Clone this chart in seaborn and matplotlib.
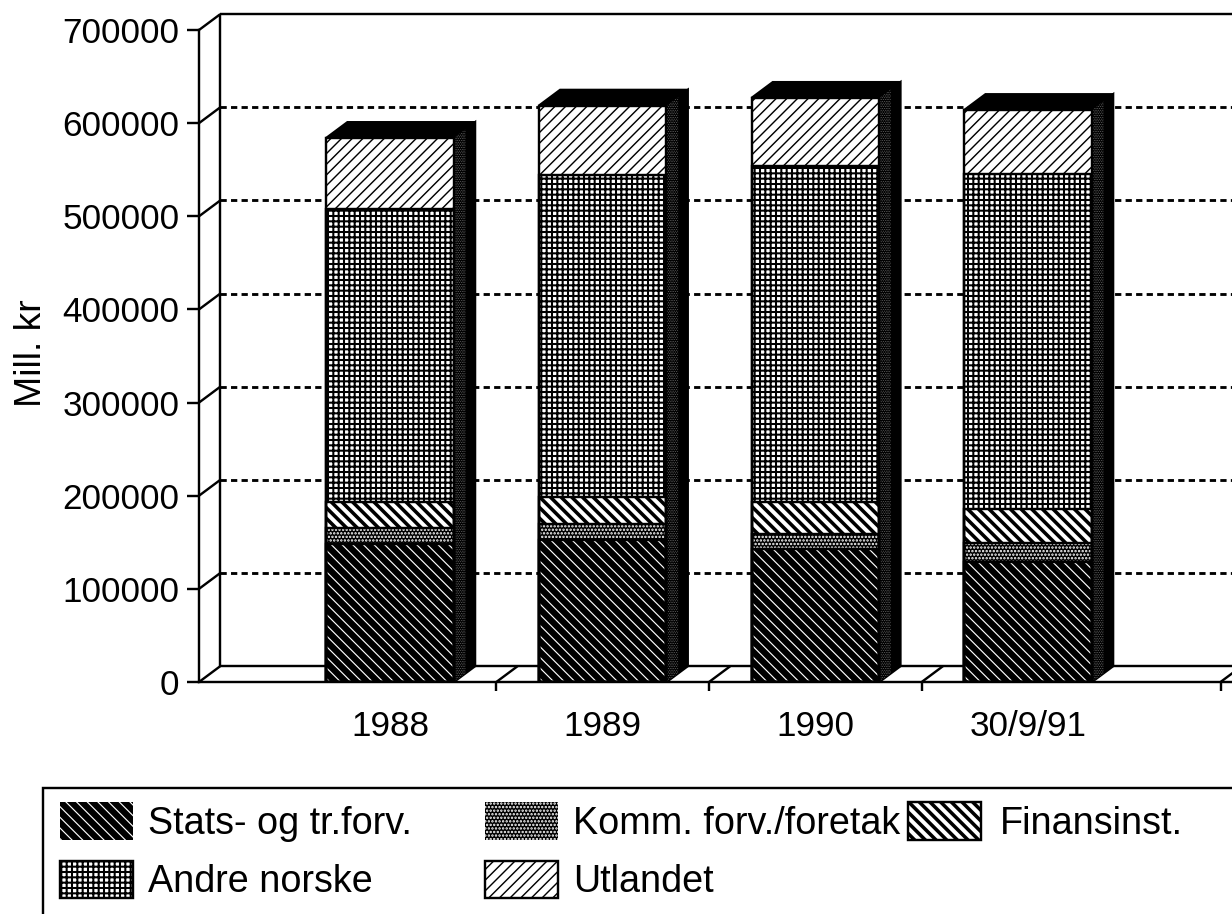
import numpy as np
import pandas as pd
import matplotlib
matplotlib.use('Agg')
import matplotlib.pyplot as plt
import seaborn as sns
from matplotlib.patches import Patch, Polygon, Rectangle

# Values (mill. kr)
periods = ['1988', '1989', '1990', '30/9/91']
stats = [148000, 152500, 143000, 129000]
komm = [17000, 17500, 16000, 20000]
finans = [28000, 28700, 34000, 37000]
andre = [315000, 345800, 361000, 359000]
utland = [76000, 74200, 73000, 69000]
series_names = ['Stats- og tr.forv.', 'Komm. forv./foretak', 'Finansinst.', 'Andre norske', 'Utlandet']
y_ticks = [0, 100000, 200000, 300000, 400000, 500000, 600000, 700000]

# face, hatch colour, hatch, hatch linewidth
styles = [
    ('black', 'white', '\\\\', 1.3),
    ('black', 'white', '...', 1.8),
    ('white', 'black', '\\\\', 4.0),
    ('white', 'black', '++', 2.3),
    ('white', 'black', '//', 1.6),
]

DPI = 64
W, H = 1232, 914
BAR_WIDTH = 0.6
DEPTH_X = 0.1
DEPTH_Y = 17000
LW = 2.7

sns.set_theme(style='white')
plt.rcParams['font.family'] = ['Liberation Sans', 'DejaVu Sans']
plt.rcParams['axes.linewidth'] = LW
plt.rcParams['axes.edgecolor'] = 'black'
plt.rcParams['axes.labelcolor'] = 'black'
plt.rcParams['text.color'] = 'black'
plt.rcParams['xtick.color'] = 'black'
plt.rcParams['ytick.color'] = 'black'

fig = plt.figure(figsize=(W / DPI, H / DPI), dpi=DPI)
ax = fig.add_axes([199 / W, (H - 682) / H, (W - 199) / W, 652 / H])

x_min, x_max = -0.898, 3.959

# Build stacked totals, draw the tallest first so lower ones sit on top
values = np.array([stats, komm, finans, andre, utland], dtype=float)
cum = np.cumsum(values, axis=0)
df = pd.DataFrame({'period': periods})
for name, col in zip(series_names, cum):
    df[name] = col

for i in range(len(series_names) - 1, -1, -1):
    face, hatch_col, hatch, hatch_lw = styles[i]
    plt.rcParams['hatch.linewidth'] = hatch_lw
    sns.barplot(data=df, x='period', y=series_names[i], color=face, saturation=1,
                width=BAR_WIDTH, errorbar=None, edgecolor=hatch_col, linewidth=0,
                hatch=hatch, zorder=4, ax=ax)

# Outlines of each segment
for name in series_names:
    sns.barplot(data=df, x='period', y=name, color='black', saturation=1, fill=False,
                width=BAR_WIDTH, errorbar=None, linewidth=LW, zorder=5, ax=ax)

# Side and top faces of the bars
plt.rcParams['hatch.linewidth'] = 0.5
totals = cum[-1]
for i, total in enumerate(totals):
    left = i - BAR_WIDTH / 2
    right = i + BAR_WIDTH / 2
    side = [(right, 0), (right + DEPTH_X, DEPTH_Y), (right + DEPTH_X, total + DEPTH_Y), (right, total)]
    top = [(left, total), (left + DEPTH_X, total + DEPTH_Y), (right + DEPTH_X, total + DEPTH_Y), (right, total)]
    ax.add_patch(Polygon(side, closed=True, facecolor='black', edgecolor='black', lw=LW, zorder=3))
    ax.add_patch(Polygon(top, closed=True, facecolor='black', edgecolor='black', lw=LW, zorder=3))
    inner = [(right, 0), (right + DEPTH_X * 0.55, DEPTH_Y * 0.55), (right + DEPTH_X * 0.55, total + DEPTH_Y * 0.55), (right, total)]
    ax.add_patch(Polygon(inner, closed=True, facecolor='black', edgecolor='#8a8a8a', lw=0, hatch='......', zorder=3.5))

# Back wall and floor of the 3D frame
back_x = x_min + DEPTH_X
line_kw = dict(color='black', lw=LW, clip_on=False, zorder=2, solid_capstyle='butt')
ax.plot([back_x, back_x], [DEPTH_Y, y_ticks[-1] + DEPTH_Y], **line_kw)
ax.plot([back_x, x_max], [DEPTH_Y, DEPTH_Y], **line_kw)
ax.plot([back_x, x_max], [y_ticks[-1] + DEPTH_Y] * 2, **line_kw)
for tick in y_ticks:
    ax.plot([x_min, back_x], [tick, tick + DEPTH_Y], **line_kw)
ax.hlines([t + DEPTH_Y for t in y_ticks[1:-1]], back_x, x_max, color='black', lw=3.2,
          linestyles=(0, (2.2, 1.5)), zorder=2)

# Category separators on the floor
sep_ticks = [0.5, 1.5, 2.5, 3.905]
for tick in sep_ticks:
    ax.plot([tick, tick + DEPTH_X], [0, DEPTH_Y], **line_kw)

ax.set_xlim(x_min, x_max)
ax.set_ylim(0, 700000)
ax.set_yticks(y_ticks)
ax.set_yticklabels([str(t) for t in y_ticks])
ax.set_xticks(range(len(periods)))
ax.set_xticklabels(periods)
ax.set_xticks(sep_ticks, minor=True)
ax.tick_params(axis='y', length=13, width=LW, pad=9, labelsize=39.5, left=True)
ax.tick_params(axis='x', which='major', length=0, pad=31, labelsize=39.5)
ax.tick_params(axis='x', which='minor', length=10, width=LW, bottom=True)
ax.set_xlabel('')
ax.set_ylabel('Mill. kr', fontsize=42)
ax.yaxis.set_label_coords((49 - 199) / (W - 199), (682 - 353) / 652)
for s in ['top', 'right']:
    ax.spines[s].set_visible(False)
for s in ['left', 'bottom']:
    ax.spines[s].set_zorder(2)

# Legend: frame runs off the page, columns placed one by one
fig.add_artist(Rectangle((43 / W, -0.02), 1.1, (H - 788) / H + 0.02, transform=fig.transFigure,
                         fill=False, edgecolor='black', lw=LW))

def legend_handle(i):
    face, hatch_col, hatch, hatch_lw = styles[i]
    return Patch(facecolor=face, edgecolor=hatch_col, hatch=hatch, lw=LW if face == 'white' else 0)

columns = [([0, 3], 60, 0.39), ([1, 4], 485, 0.39), ([2], 908, 0.5)]
for members, left_px, text_pad in columns:
    leg = fig.legend([legend_handle(i) for i in members], [series_names[i] for i in members],
                     loc='upper left', bbox_to_anchor=(left_px / W, (H - 802) / H),
                     frameon=False, fontsize=42.5, borderpad=0, borderaxespad=0,
                     handlelength=1.93, handleheight=1.16, handletextpad=text_pad, labelspacing=0.5)
    for i, patch in zip(members, leg.get_patches()):
        if hasattr(patch, 'set_hatch_linewidth'):
            patch.set_hatch_linewidth(styles[i][3])

fig.savefig('out.png', dpi=DPI)
